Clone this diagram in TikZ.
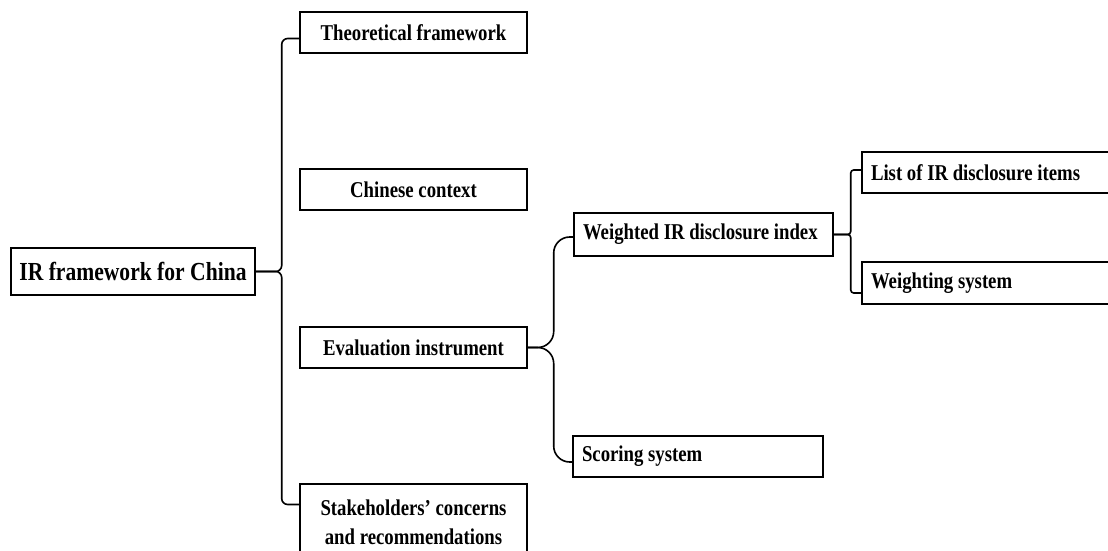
\documentclass[tikz,border=0pt]{standalone}
\usepackage{fontspec}
\setmainfont{Liberation Serif}[FakeStretch=0.83]
\usetikzlibrary{calc}

\begin{document}
\begin{tikzpicture}[x=1pt,y=-1pt,
        box/.style={draw, line width=1.4pt, minimum width=227pt, minimum height=41pt, inner sep=0pt, align=center,
            font=\bfseries\fontsize{22.6}{29}\selectfont},
        leftbox/.style={draw, line width=1.4pt, text width=#1, minimum height=41pt, inner xsep=9pt, inner ysep=0pt, align=flush left,
            font=\bfseries\fontsize{22.6}{29}\selectfont},
        link/.style={line width=1.6pt, rounded corners=#1},
        link/.default=6pt]
                    \useasboundingbox (0,0) rectangle (1108,551);
%                    level 1
                    \node[box, minimum width=244pt, minimum height=47pt, font=\bfseries\fontsize{26}{31}\selectfont] (main) at (133,271.5) {IR framework for China};
%                    level 2
                    \node[box] (theory) at (413.5,32.5) {Theoretical framework};
                    \node[box] (chinese) at (413.5,189.5) {Chinese context};
                    \node[box] (eval) at (413.5,347.5) {Evaluation instrument};
                    \node[box, minimum height=77pt] (stake) at (413.5,522.5) {Stakeholders’ concerns\\and recommendations};
%                    level 3
                    \node[leftbox=241pt, minimum height=43pt] (weighted) at (703.5,234.5) {Weighted IR disclosure index};
                    \node[leftbox=232pt] (scoring) at (698,456.5) {Scoring system};
%                    level 4
                    \node[leftbox=235pt] (items) at (988.5,172.5) {List of IR disclosure items};
                    \node[leftbox=235pt, minimum height=42pt] (weighting) at (988.5,283) {Weighting system};

                    \coordinate (mainfork) at ($(main.east)+(26,0)$);
                    \draw[link] (main.east) -- (mainfork) |- ($(theory.west)+(0,6)$);
                    \draw[link] (main.east) -- (mainfork) |- ($(stake.west)+(0,-18)$);

                    \coordinate (evalfork) at ($(eval.east)+(26,0)$);
                    \draw[link=16pt] (eval.east) -- (evalfork) |- ($(weighted.west)+(0,2.5)$);
                    \draw[link=16pt] (eval.east) -- (evalfork) |- ($(scoring.west)+(0,5.5)$);

                    \coordinate (weightfork) at ($(weighted.east)+(17,0)$);
                    \draw[link=3pt] (weighted.east) -- (weightfork) |- ($(items.west)+(0,-2.5)$);
                    \draw[link=3pt] (weighted.east) -- (weightfork) |- ($(weighting.west)+(0,10)$);

                \end{tikzpicture}
\end{document}
